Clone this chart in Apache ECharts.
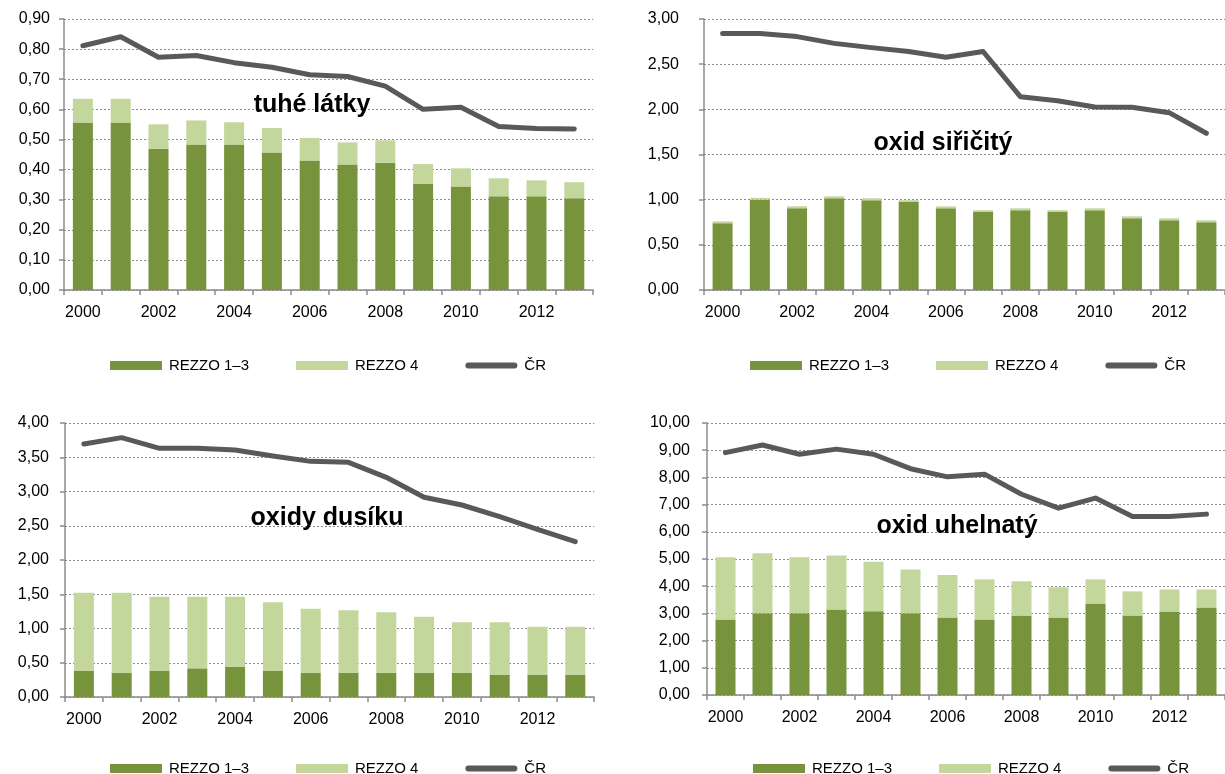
<!DOCTYPE html>
<html>
<head>
<meta charset="utf-8">
<script src="https://cdn.jsdelivr.net/npm/echarts@6/dist/echarts.min.js"></script>
<style>
  html, body { margin: 0; padding: 0; background: #fff; }
  #chart { width: 1225px; height: 774px; }
</style>
</head>
<body>
<div id="chart"></div>
<script>
// Emise v ČR 2000–2013: REZZO 1–3, REZZO 4 (skládané sloupce) a ČR celkem (čára)
const years = ['2000','2001','2002','2003','2004','2005','2006','2007','2008','2009','2010','2011','2012','2013'];
const seriesNames = ['REZZO 1–3', 'REZZO 4', 'ČR'];

// tuhé látky
const tzlRezzo13 = [0.556,0.556,0.469,0.483,0.483,0.457,0.430,0.417,0.423,0.352,0.344,0.311,0.311,0.305];
const tzlRezzo4  = [0.079,0.079,0.081,0.080,0.074,0.081,0.075,0.073,0.074,0.066,0.060,0.060,0.053,0.053];
const tzlCR      = [0.811,0.841,0.773,0.779,0.755,0.740,0.715,0.709,0.677,0.600,0.607,0.543,0.536,0.535];

// oxid siřičitý
const so2Rezzo13 = [0.740,1.000,0.905,1.015,0.993,0.974,0.904,0.863,0.882,0.863,0.882,0.793,0.771,0.750];
const so2Rezzo4  = [0.020,0.020,0.022,0.022,0.022,0.020,0.022,0.020,0.022,0.020,0.022,0.022,0.022,0.022];
const so2CR      = [2.840,2.840,2.805,2.730,2.683,2.640,2.576,2.640,2.140,2.096,2.025,2.022,1.963,1.735];

// oxidy dusíku
const noxRezzo13 = [0.385,0.355,0.385,0.418,0.443,0.385,0.355,0.355,0.355,0.355,0.355,0.326,0.326,0.326];
const noxRezzo4  = [1.138,1.168,1.079,1.046,1.021,0.997,0.935,0.910,0.881,0.818,0.735,0.764,0.701,0.701];
const noxCR      = [3.693,3.786,3.630,3.630,3.606,3.518,3.440,3.426,3.207,2.915,2.803,2.632,2.448,2.267];

// oxid uhelnatý
const coRezzo13 = [2.78,3.01,3.01,3.14,3.08,3.01,2.85,2.78,2.92,2.85,3.36,2.92,3.07,3.22];
const coRezzo4  = [2.28,2.20,2.05,1.99,1.82,1.60,1.56,1.47,1.26,1.11,0.89,0.89,0.81,0.66];
const coCR      = [8.91,9.19,8.85,9.04,8.85,8.32,8.02,8.12,7.38,6.87,7.24,6.56,6.56,6.65];

const panelTitles = ['tuhé látky', 'oxid siřičitý', 'oxidy dusíku', 'oxid uhelnatý'];
const yMax = [0.9, 3, 4, 10];
const yStep = [0.1, 0.5, 0.5, 1];

const panels = [
  { r13: tzlRezzo13, r4: tzlRezzo4, cr: tzlCR },
  { r13: so2Rezzo13, r4: so2Rezzo4, cr: so2CR },
  { r13: noxRezzo13, r4: noxRezzo4, cr: noxCR },
  { r13: coRezzo13, r4: coRezzo4, cr: coCR }
];

// layout of the four panels (px)
const layout = [
  { left: 64,  top: 19,  height: 271, yMargin: 14, legendLeft: 105, legendTop: 353, title: [307, 100] },
  { left: 704, top: 19,  height: 271, yMargin: 25, legendLeft: 745, legendTop: 353, title: [938, 138] },
  { left: 65,  top: 423, height: 274, yMargin: 16, legendLeft: 105, legendTop: 756, title: [322, 513] },
  { left: 707, top: 423, height: 272, yMargin: 17, legendLeft: 748, legendTop: 756, title: [952, 521] }
];
const catWidth = 37.8;
const plotWidth = catWidth * years.length;

const DARK = '#77933C', LIGHT = '#C3D69B', LINE = '#595959', AXIS = '#8C8C8C';
const FONT = '"Liberation Sans", Arial, sans-serif';
// thick rounded stroke used as the legend key of the ČR line
const LINE_KEY = 'path://M3,0 H49 A3,3 0 0 1 49,6 H3 A3,3 0 0 1 3,0 Z';

const option = {
  animation: false,
  backgroundColor: '#fff',
  textStyle: { fontFamily: FONT },
  grid: [], xAxis: [], yAxis: [], series: [], legend: [], title: []
};

panels.forEach((p, i) => {
  const L = layout[i];
  option.grid.push({
    left: L.left, top: L.top, height: L.height,
    right: 1225 - L.left - plotWidth, containLabel: false
  });
  option.xAxis.push({
    type: 'category', gridIndex: i, data: years, boundaryGap: true,
    axisLine: { lineStyle: { color: AXIS, width: 1.5 } },
    axisTick: { show: true, interval: 0, length: 5, lineStyle: { color: AXIS, width: 1.5 } },
    axisLabel: { interval: 1, color: '#000', fontSize: 16, fontFamily: FONT, margin: 15 },
    splitLine: { show: false }
  });
  option.yAxis.push({
    type: 'value', gridIndex: i, min: 0, max: yMax[i], interval: yStep[i],
    axisLine: { show: true, lineStyle: { color: AXIS, width: 1.5 } },
    axisTick: { show: true, length: 5, lineStyle: { color: AXIS, width: 1.5 } },
    axisLabel: {
      color: '#000', fontSize: 16, fontFamily: FONT, margin: L.yMargin,
      formatter: v => v.toFixed(2).replace('.', ',')
    },
    splitLine: { show: true, lineStyle: { color: '#8C8C8C', width: 1, type: [2, 2] } }
  });
  option.series.push(
    { name: seriesNames[0], type: 'bar', stack: 'p' + i, xAxisIndex: i, yAxisIndex: i,
      barWidth: 20, data: p.r13, itemStyle: { color: DARK } },
    { name: seriesNames[1], type: 'bar', stack: 'p' + i, xAxisIndex: i, yAxisIndex: i,
      barWidth: 20, data: p.r4, itemStyle: { color: LIGHT } },
    { name: seriesNames[2], type: 'line', xAxisIndex: i, yAxisIndex: i, data: p.cr,
      symbol: 'none', z: 5,
      lineStyle: { color: LINE, width: 5, cap: 'round', join: 'round' },
      itemStyle: { color: LINE } }
  );
  option.legend.push({
    left: L.legendLeft, top: L.legendTop, orient: 'horizontal',
    itemWidth: 52, itemHeight: 9, itemGap: 47,
    selectedMode: false,
    data: [
      { name: seriesNames[0], icon: 'rect', itemStyle: { color: DARK } },
      { name: seriesNames[1], icon: 'rect', itemStyle: { color: LIGHT } },
      { name: seriesNames[2], icon: LINE_KEY, itemStyle: { color: LINE, borderWidth: 0 } }
    ],
    textStyle: { color: '#000', fontSize: 15, fontFamily: FONT, padding: [0, 0, 0, 2] }
  });
  option.title.push({
    text: panelTitles[i],
    left: L.title[0], top: L.title[1],
    textAlign: 'center', textVerticalAlign: 'middle',
    textStyle: { color: '#000', fontSize: 25, fontWeight: 'bold', fontFamily: FONT }
  });
});

const chart = echarts.init(document.getElementById('chart'), null, { renderer: 'canvas' });
chart.setOption(option);
</script>
</body>
</html>
